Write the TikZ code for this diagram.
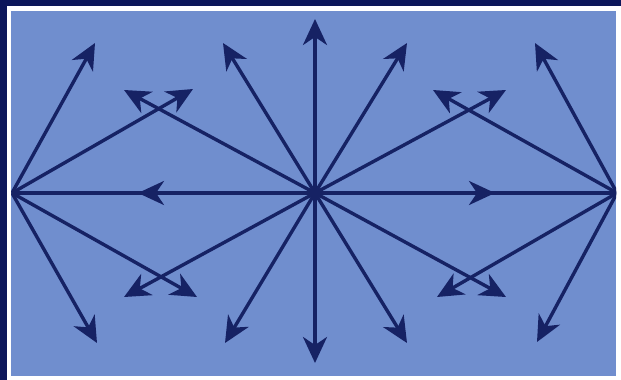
\documentclass[tikz,border=0pt]{standalone}
\usetikzlibrary{arrows.meta}
\definecolor{navy}{RGB}{12,22,90}
\definecolor{inkblue}{RGB}{22,34,100}
\definecolor{bgblue}{RGB}{112,142,206}
\tikzset{
  ray/.style={draw=inkblue, line width=3.4pt,
    -{Stealth[length=26pt,width=24pt,inset=8pt]}},
  plainray/.style={draw=inkblue, line width=3.4pt}
}
\begin{document}
\begin{tikzpicture}[x=1pt,y=-1pt]
\useasboundingbox (0,0) rectangle (621,380);
\fill[navy] (0,0) rectangle (621,380);
\fill[white] (7,6) rectangle (621,380);
\fill[bgblue] (11,11) rectangle (616,376);
% sources
\coordinate (L) at (12,193);
\coordinate (C) at (315,193);
\coordinate (R) at (617,193);
% tips from L
\coordinate (l1) at (95,43);
\coordinate (l2) at (193,89);
\coordinate (l3) at (97,343);
\coordinate (l4) at (197,297);
% tips from C
\coordinate (c1) at (315,19);
\coordinate (c2) at (223,43);
\coordinate (c3) at (407,43);
\coordinate (c4) at (124,90);
\coordinate (c5) at (506,90);
\coordinate (c6) at (315,363);
\coordinate (c7) at (225,343);
\coordinate (c8) at (407,343);
\coordinate (c9) at (124,297);
\coordinate (c10) at (506,297);
\coordinate (hl) at (138,193);
\coordinate (hr) at (495,193);
% tips from R
\coordinate (r1) at (535,43);
\coordinate (r2) at (433,90);
\coordinate (r3) at (537,342);
\coordinate (r4) at (437,297);
\begin{scope}
\clip (11,11) rectangle (616,376);
\draw[plainray] (L) -- (R);
\foreach \t in {l1,l2,l3,l4} \draw[ray] (L) -- (\t);
\foreach \t in {c1,c2,c3,c4,c5,c6,c7,c8,c9,c10,hl,hr} \draw[ray] (C) -- (\t);
\foreach \t in {r1,r2,r3,r4} \draw[ray] (R) -- (\t);
\fill[inkblue] (C) circle (6pt);
\end{scope}
\end{tikzpicture}
\end{document}
